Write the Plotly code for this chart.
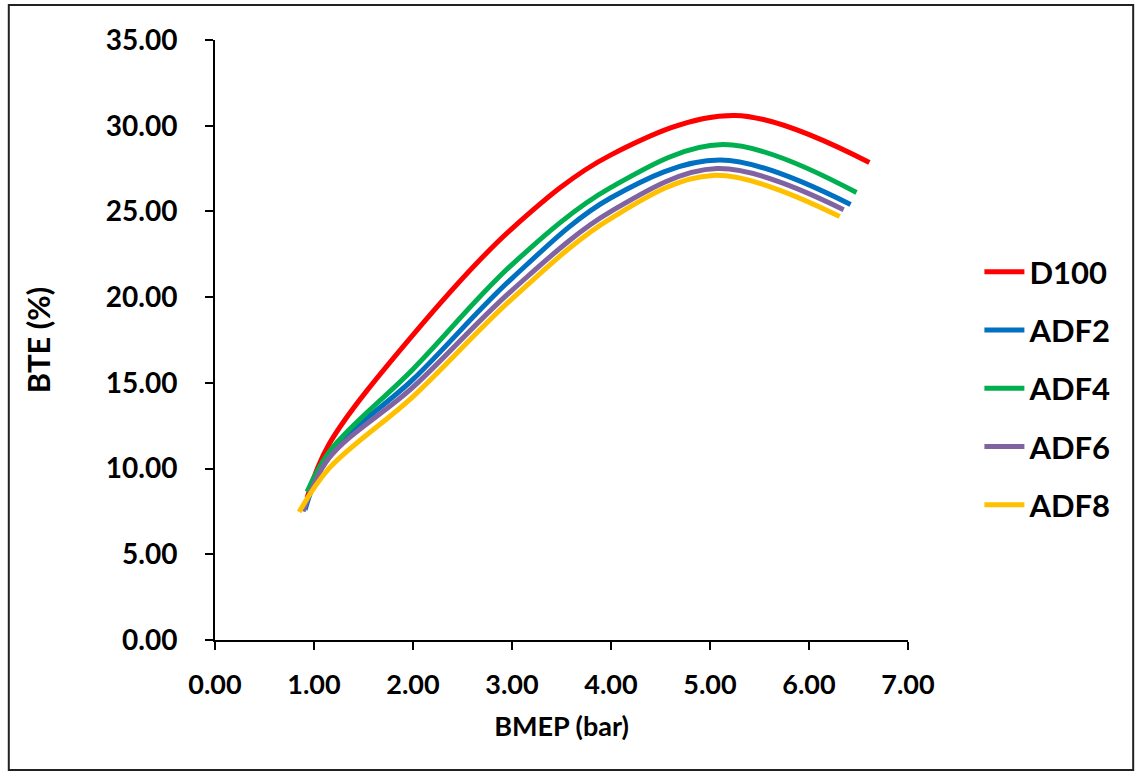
import plotly.graph_objects as go

# BMEP (bar) and BTE (%)
d100_x = [0.93, 1.15, 2.0, 3.0, 4.0, 5.25, 6.61]
d100_y = [8.3, 11.4, 17.8, 24.0, 28.3, 30.6, 27.85]

adf2_x = [0.91, 1.15, 2.0, 3.0, 4.0, 5.10, 6.42]
adf2_y = [7.6, 10.8, 15.2, 21.1, 25.8, 28.0, 25.4]

adf4_x = [0.93, 1.17, 2.0, 3.0, 4.0, 5.13, 6.48]
adf4_y = [8.65, 11.1, 15.8, 21.9, 26.4, 28.9, 26.1]

adf6_x = [0.89, 1.15, 2.0, 3.0, 4.0, 5.07, 6.35]
adf6_y = [7.5, 10.6, 14.75, 20.4, 25.0, 27.5, 25.1]

adf8_x = [0.85, 1.15, 2.0, 3.0, 4.0, 5.03, 6.31]
adf8_y = [7.47, 10.0, 14.2, 19.9, 24.6, 27.1, 24.7]

series = [
    ("D100", d100_x, d100_y, "#FF0000"),
    ("ADF2", adf2_x, adf2_y, "#0070C0"),
    ("ADF4", adf4_x, adf4_y, "#00B050"),
    ("ADF6", adf6_x, adf6_y, "#8064A2"),
    ("ADF8", adf8_x, adf8_y, "#FFC000"),
]

x_ticks = [0, 1, 2, 3, 4, 5, 6, 7]
y_ticks = [0, 5, 10, 15, 20, 25, 30, 35]

FONT = "Lato"

fig = go.Figure()
for name, xs, ys, col in series:
    fig.add_trace(go.Scatter(
        x=xs, y=ys, name=name, mode="lines",
        line=dict(color=col, width=5, shape="spline", smoothing=1.0),
        legendgroup=name,
    ))

W, H = 1138, 775
L, R, T, B = 214.5, 229.5, 40, 135
pw, ph = W - L - R, H - T - B

def px_to_paper_x(px):
    return (px - L) / pw

def px_to_paper_y(py):
    return (H - B - py) / ph

fig.update_layout(
    width=W, height=H,
    margin=dict(l=L, r=R, t=T, b=B, pad=0),
    paper_bgcolor="white", plot_bgcolor="white",
    font=dict(family=FONT, color="black"),
    showlegend=True,
    legend=dict(
        x=px_to_paper_x(980), y=px_to_paper_y(245),
        xanchor="left", yanchor="top",
        font=dict(family=FONT, size=31, color="black", weight="bold"),
        tracegroupgap=15, itemwidth=40,
        bgcolor="rgba(0,0,0,0)",
    ),
    xaxis=dict(
        range=[0, 7], tickvals=x_ticks,
        ticktext=[f"{v:.2f}" for v in x_ticks],
        showline=True, linecolor="black", linewidth=2,
        ticks="outside", ticklen=8, tickwidth=2, tickcolor="black",
        showgrid=False, zeroline=False,
        tickfont=dict(family=FONT, size=27, weight="bold"),
        ticklabelstandoff=12,
        title=dict(text="BMEP (bar)", font=dict(family=FONT, size=27, weight="bold"), standoff=18),
    ),
    yaxis=dict(
        range=[0, 35], tickvals=y_ticks,
        ticktext=[f"{v:.2f}" for v in y_ticks],
        showline=True, linecolor="black", linewidth=2,
        ticks="outside", ticklen=8, tickwidth=2, tickcolor="black",
        showgrid=False, zeroline=False,
        tickfont=dict(family=FONT, size=28, weight="bold"),
        ticklabelstandoff=22,
        title=dict(text="BTE (%)", font=dict(family=FONT, size=31, weight="bold"), standoff=46),
    ),
    shapes=[dict(
        type="rect", xref="paper", yref="paper",
        x0=px_to_paper_x(8), x1=px_to_paper_x(1134),
        y0=px_to_paper_y(770), y1=px_to_paper_y(5),
        line=dict(color="#222222", width=2), fillcolor="rgba(0,0,0,0)",
        layer="below",
    )],
)

fig.write_html("out.html")
